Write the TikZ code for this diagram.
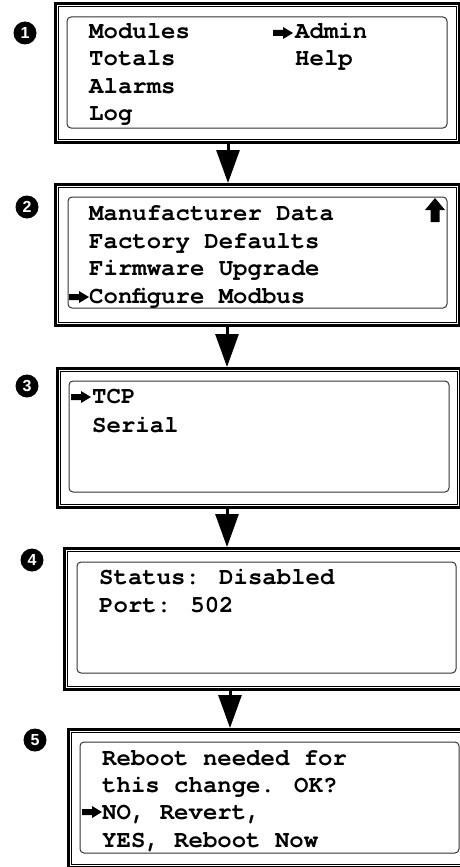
\documentclass[tikz,border=0pt]{standalone}
\usepackage{fontspec}
\newfontfamily\lcd{TeX Gyre Cursor}
\newfontfamily\numf{Liberation Sans}
\usetikzlibrary{arrows.meta,calc}
\begin{document}
\begin{tikzpicture}[x=1pt,y=-1pt,
  outerbox/.style={draw=black, line width=3pt, inner sep=0pt, anchor=north west},
  innerline/.style={draw=black, line width=0.8pt},
  screen/.style={draw=black!80, line width=1pt, rounded corners=4pt},
  txt/.style={anchor=base west, inner sep=0pt, font=\lcd\bfseries\fontsize{24}{24}\selectfont},
  num/.style={circle, fill=black, text=white, inner sep=0pt, minimum size=23pt, font=\numf\bfseries\fontsize{16}{16}\selectfont},
  flow/.style={line width=3pt, -{Triangle[width=23pt,length=33pt]}},
  sel/.pic={\fill (0,-3) -- (10,-3) -- (10,-6) -- (20,0) -- (10,6) -- (10,3) -- (0,3) -- cycle;},
  upmark/.pic={\fill (-4.5,24) -- (-4.5,12) -- (-10,12) -- (0,0) -- (10,12) -- (4.5,12) -- (4.5,24) -- cycle;}
]
\useasboundingbox (0,0) rectangle (460,867);

% ---------- Box 1 ----------
\node[outerbox, minimum width=404pt, minimum height=139pt] (b1) at (54,2) {};
\draw[innerline] ($(b1.north west)+(4.5,4.5)$) rectangle ($(b1.south east)+(-4.5,-4.5)$);
\draw[screen] (67,17) rectangle (447,128);
\node[num] (n1) at (25,33) {1};
\node[txt] (t11) at (89,39) {Modules};
\node[txt] (t12) at (89,66) {Totals};
\node[txt] (t13) at (89,93) {Alarms};
\node[txt] (t14) at (89,120) {Log};
\node[txt] (t15) at (295,39) {Admin};
\node[txt] (t16) at (295,66) {Help};
\pic at (273,33) {sel};

% ---------- Box 2 ----------
\node[outerbox, minimum width=404pt, minimum height=141pt] (b2) at (54,183) {};
\draw[innerline] ($(b2.north west)+(4.5,4.5)$) rectangle ($(b2.south east)+(-4.5,-4.5)$);
\draw[screen] (68,197) rectangle (447,308);
\node[num] (n2) at (27,207) {2};
\node[txt] (t21) at (89,220) {Manufacturer Data};
\node[txt] (t22) at (89,248) {Factory Defaults};
\node[txt] (t23) at (89,275) {Firmware Upgrade};
\node[txt] (t24) at (89,303) {Configure Modbus};
\pic at (69,297) {sel};
\pic at (435,198) {upmark};

% ---------- Box 3 ----------
\node[outerbox, minimum width=403pt, minimum height=139pt] (b3) at (56,367) {};
\draw[innerline] ($(b3.north west)+(4.5,4.5)$) rectangle ($(b3.south east)+(-4.5,-4.5)$);
\draw[screen] (69,381) rectangle (449,492);
\node[num] (n3) at (27,386) {3};
\node[txt] (t31) at (92,403) {TCP};
\node[txt] (t32) at (92,432) {Serial};
\pic at (71,397) {sel};

% ---------- Box 4 ----------
\node[outerbox, minimum width=410pt, minimum height=141pt] (b4) at (63,547) {};
\draw[innerline] ($(b4.north west)+(4.5,4.5)$) rectangle ($(b4.south east)+(-4.5,-4.5)$);
\draw[screen] (77,562) rectangle (456,673);
\node[num] (n4) at (32,560) {4};
\node[txt] (t41) at (99,584) {Status: Disabled};
\node[txt] (t42) at (99,612) {Port: 502};

% ---------- Box 5 ----------
\node[outerbox, minimum width=410pt, minimum height=138pt] (b5) at (67,728) {};
\draw[innerline] ($(b5.north west)+(4.5,4.5)$) rectangle ($(b5.south east)+(-4.5,-4.5)$);
\draw[screen] (80,742) rectangle (459,853);
\node[num] (n5) at (35,740) {5};
\node[txt] (t51) at (102,765) {Reboot needed for};
\node[txt] (t52) at (102,792) {this change. OK?};
\node[txt] (t53) at (102,819) {NO, Revert,};
\node[txt] (t54) at (102,847) {YES, Reboot Now};
\pic at (82,812) {sel};

% ---------- Arrows ----------
\coordinate (ax1) at (228,0);
\coordinate (ax2) at (227,0);
\coordinate (ax3) at (227,0);
\coordinate (ax4) at (230,0);
\draw[flow] (b1.south -| ax1) -- (b2.north -| ax1);
\draw[flow] (b2.south -| ax2) -- (b3.north -| ax2);
\draw[flow] (b3.south -| ax3) -- (b4.north -| ax3);
\draw[flow] (b4.south -| ax4) -- (b5.north -| ax4);
\end{tikzpicture}
\end{document}
